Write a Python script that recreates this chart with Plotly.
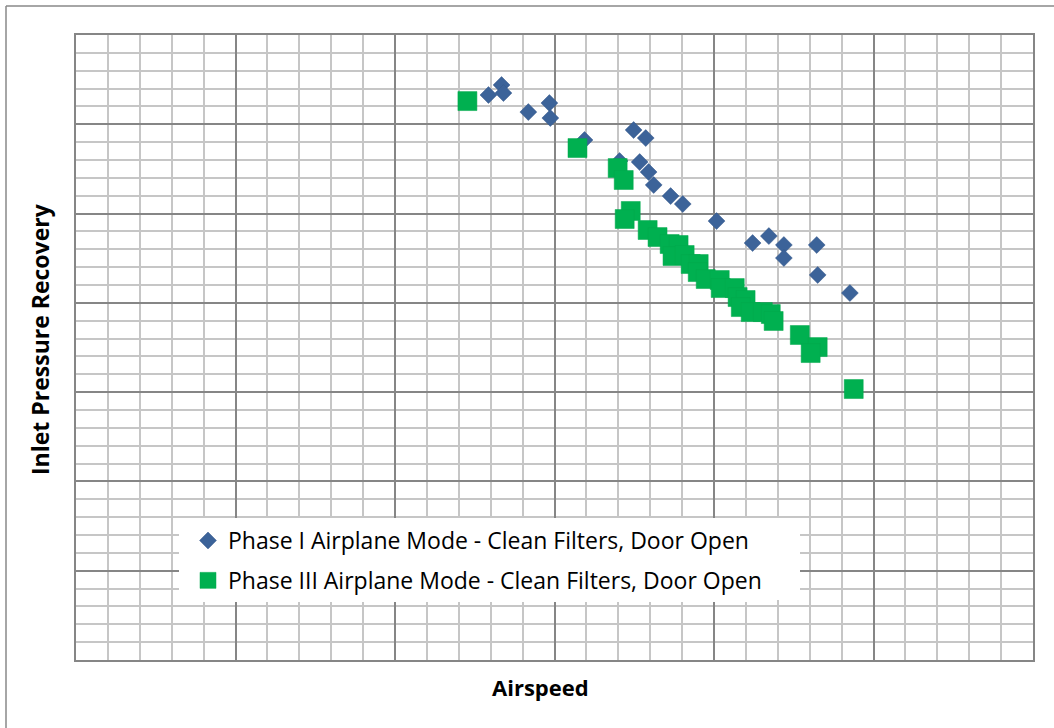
import plotly.graph_objects as go

# Phase I Airplane Mode - Clean Filters, Door Open
phase1_airspeed = [129.3, 133.4, 134.0, 141.8, 148.4, 148.7, 159.4, 170.4, 174.8, 178.6,
                   176.7, 179.5, 181.1, 186.4, 190.2, 200.8, 212.1, 217.2, 221.9, 221.9,
                   232.2, 232.5, 242.6]
phase1_recovery = [0.99328, 0.99440, 0.99350, 0.99137, 0.99238, 0.99070, 0.98824, 0.98589,
                   0.98936, 0.98846, 0.98577, 0.98465, 0.98320, 0.98196, 0.98107, 0.97916,
                   0.97670, 0.97748, 0.97648, 0.97502, 0.97648, 0.97312, 0.97110]

# Phase III Airplane Mode - Clean Filters, Door Open
phase3_airspeed = [122.7, 157.2, 169.8, 171.7, 173.9, 172.0, 179.2, 182.3, 186.1, 188.9,
                   187.0, 190.8, 192.7, 195.2, 194.9, 197.4, 201.8, 202.1, 206.5, 207.4,
                   209.9, 208.4, 211.5, 215.3, 217.8, 218.7, 226.9, 232.5, 230.3, 243.8]
phase3_recovery = [0.99260, 0.98734, 0.98510, 0.98376, 0.98029, 0.97939, 0.97816, 0.97737,
                   0.97659, 0.97648, 0.97524, 0.97536, 0.97435, 0.97435, 0.97345, 0.97267,
                   0.97256, 0.97166, 0.97166, 0.97065, 0.97032, 0.96953, 0.96897, 0.96897,
                   0.96875, 0.96797, 0.96640, 0.96505, 0.96438, 0.96035]

series1_name = "Phase I Airplane Mode - Clean Filters, Door Open"
series3_name = "Phase III Airplane Mode - Clean Filters, Door Open"

fig = go.Figure()
fig.add_trace(go.Scatter(
    x=phase1_airspeed, y=phase1_recovery, mode="markers", name=series1_name,
    legendgroup="g1",
    marker=dict(symbol="diamond", size=13, color="#3C6399",
                line=dict(width=0.5, color="#36598A"))))
fig.add_trace(go.Scatter(
    x=phase3_airspeed, y=phase3_recovery, mode="markers", name=series3_name,
    legendgroup="g3",
    marker=dict(symbol="square", size=19, color="#00B050",
                line=dict(width=0.5, color="#00A84C"))))

# the chart frame continues past the right and bottom edges of the window
W, H = 1070, 740
# plot area in page pixels: left 76, right 1033, top 35, bottom 660
ml, mt = 76, 35
mr = W - 1033
mb = H - 660
pw, ph = W - ml - mr, H - mt - mb

def px_x(p):
    return (p - ml) / pw

def px_y(p):
    return (H - mb - p) / ph

axis_common = dict(showticklabels=False, ticks="", zeroline=False,
                   showgrid=True, gridcolor="#868686", gridwidth=1.5,
                   showline=True, linecolor="#868686", linewidth=1.5, mirror=True)

fig.update_layout(
    width=W, height=H,
    margin=dict(l=ml, r=mr, t=mt, b=mb),
    paper_bgcolor="white", plot_bgcolor="white",
    font=dict(family="Open Sans, Carlito, Calibri, sans-serif", color="black"),
    xaxis=dict(range=[0, 300], dtick=50, tick0=0,
               minor=dict(dtick=10, showgrid=True, gridcolor="#C6C6C6", gridwidth=1.5),
               **axis_common),
    yaxis=dict(range=[0.93, 1.0], dtick=0.01, tick0=0.93,
               minor=dict(dtick=0.002, showgrid=True, gridcolor="#C6C6C6", gridwidth=1.5),
               **axis_common),
    annotations=[
        dict(text="<b>Inlet Pressure Recovery</b>", textangle=-90,
             xref="paper", yref="paper", x=px_x(40), y=px_y(339),
             xanchor="center", yanchor="middle", showarrow=False,
             font=dict(size=23)),
        dict(text="<b>Airspeed</b>",
             xref="paper", yref="paper", x=px_x(540), y=px_y(687),
             xanchor="center", yanchor="middle", showarrow=False,
             font=dict(size=22)),
    ],
    legend=dict(x=px_x(188), y=px_y(519), xanchor="left", yanchor="top",
                bgcolor="white", borderwidth=0, font=dict(size=23),
                traceorder="grouped", tracegroupgap=7),
    shapes=[
        dict(type="line", xref="paper", yref="paper",
             x0=px_x(6), x1=px_x(6), y0=px_y(760), y1=px_y(6),
             line=dict(color="#898989", width=1.5), layer="below"),
        dict(type="line", xref="paper", yref="paper",
             x0=px_x(6), x1=px_x(1080), y0=px_y(6), y1=px_y(6),
             line=dict(color="#898989", width=1.5), layer="below"),
        dict(type="rect", xref="paper", yref="paper",
             x0=px_x(179), x1=px_x(800), y0=px_y(600), y1=px_y(518),
             line=dict(width=0), fillcolor="white", layer="above"),
    ],
)

fig.write_html("out.html", config={"displayModeBar": False},
               post_script="document.body.style.margin='0';document.body.style.overflow='hidden';")
